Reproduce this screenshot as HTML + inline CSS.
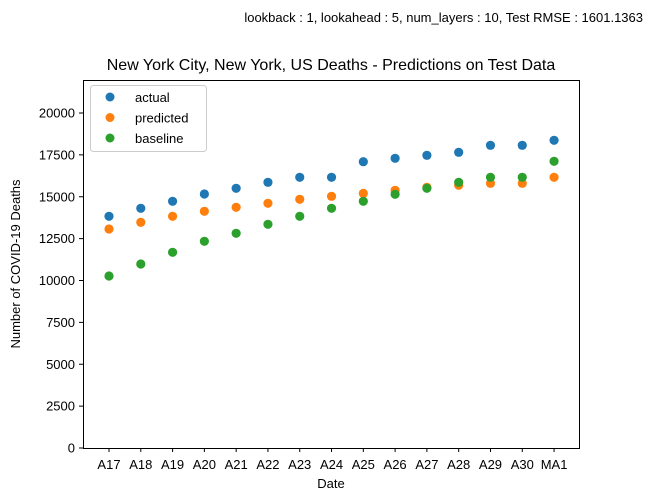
<!DOCTYPE html>
<html><head><meta charset="utf-8"><style>
html,body{margin:0;padding:0;background:#fff;}
svg{display:block;font-family:"Liberation Sans","DejaVu Sans",sans-serif;}
</style></head><body>
<svg id="chart" width="653" height="501" viewBox="0 0 653 501">
<text x="643" y="22" text-anchor="end" font-size="13" fill="#000">lookback : 1, lookahead : 5, num_layers : 10, Test RMSE : 1601.1363</text>
<text x="331" y="70" text-anchor="middle" font-size="16" fill="#000">New York City, New York, US Deaths - Predictions on Test Data</text>
<g id="axes"></g>
<g id="marks"></g>
<rect x="83.5" y="80.5" width="496" height="368" fill="none" stroke="#000" stroke-width="1"/>
<text transform="translate(20,264) rotate(-90)" text-anchor="middle" font-size="13">Number of COVID-19 Deaths</text>
<text x="331" y="488" text-anchor="middle" font-size="13">Date</text>
<g>
<rect x="90.5" y="85.5" width="116" height="66" rx="3" fill="#fff" stroke="#ccc"/>
<circle cx="110" cy="97" r="4.5" fill="#1f77b4"/>
<text x="135" y="102" font-size="13">actual</text>
<circle cx="110" cy="117.5" r="4.5" fill="#ff7f0e"/>
<text x="135" y="122.5" font-size="13">predicted</text>
<circle cx="110" cy="138" r="4.5" fill="#2ca02c"/>
<text x="135" y="143" font-size="13">baseline</text>
</g>
</svg>
<script>
const categories = ["A17","A18","A19","A20","A21","A22","A23","A24","A25","A26","A27","A28","A29","A30","MA1"];
const actual = [13833,14310,14728,15164,15504,15862,16161,16161,17092,17295,17474,17653,18071,18071,18370];
const predicted = [13074,13474,13833,14131,14370,14609,14848,15026,15205,15385,15564,15683,15802,15802,16161];
const baseline = [10268,10985,11683,12340,12818,13355,13833,14310,14728,15146,15504,15862,16161,16161,17116];
const yTicks = [0,2500,5000,7500,10000,12500,15000,17500,20000];

const NS = "http://www.w3.org/2000/svg";
function xPos(i){ return 109 + i * 31.79; }
function yPos(v){ return 448 - v * 335 / 20000; }
const axes = document.getElementById("axes");
const marks = document.getElementById("marks");
function mk(tag, attrs, parent){
  const e = document.createElementNS(NS, tag);
  for (const k in attrs) e.setAttribute(k, attrs[k]);
  parent.appendChild(e);
  return e;
}
yTicks.forEach(v => {
  const y = yPos(v);
  const t = mk("line", {x1:79, x2:83, y1:y, y2:y, stroke:"#000"}, axes);
  
  
  const l = mk("text", {x:75, y:y+4.5, "text-anchor":"end", "font-size":13}, axes);
  l.textContent = String(v);
  
  
});
categories.forEach((c, i) => {
  const x = xPos(i);
  const t = mk("line", {x1:x, x2:x, y1:448, y2:452, stroke:"#000"}, axes);
  
  
  const l = mk("text", {x:x, y:469, "text-anchor":"middle", "font-size":13}, axes);
  l.textContent = c;
  
  
});
function series(vals, color, name){
  vals.forEach((v, i) => {
    const p = mk("circle", {cx:xPos(i), cy:yPos(v), r:4.6, fill:color}, marks);
    
    
  });
}
series(actual, "#1f77b4", "actual");
series(predicted, "#ff7f0e", "predicted");
series(baseline, "#2ca02c", "baseline");
</script>
</body></html>
